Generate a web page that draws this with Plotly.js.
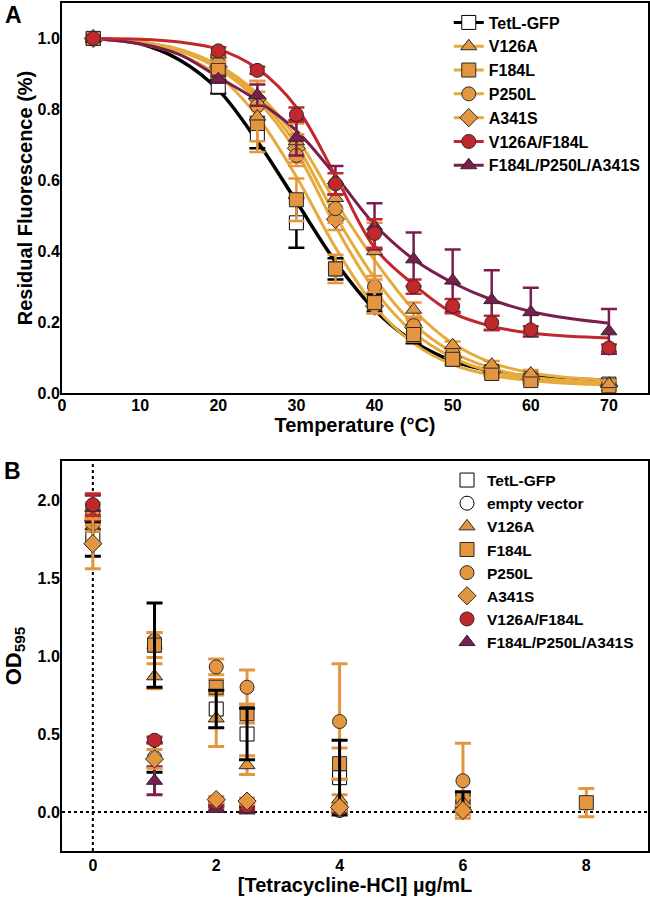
<!DOCTYPE html>
<html>
<head>
<meta charset="utf-8">
<script src="https://cdn.plot.ly/plotly-3.0.1.min.js"></script>
<style>
  html, body { margin: 0; padding: 0; background: #fff; }
  #chart { width: 650px; height: 900px; }
</style>
</head>
<body>
<div id="chart"></div>
<script>
// ---- panel A: residual fluorescence vs temperature ----
const tempX = [4, 20, 25, 30, 35, 40, 45, 50, 55, 60, 70];
const fitX = [4, 10, 15, 20, 25, 30, 35, 40, 45, 50, 55, 60, 65, 70];
const tempTicks = [0, 10, 20, 30, 40, 50, 60, 70];
const fluorTicks = [0, 0.2, 0.4, 0.6, 0.8, 1.0];

const tetlA    = [1.0, 0.865, 0.73, 0.48, 0.35, 0.255, 0.165, 0.095, 0.06, 0.04, 0.025];
const tetlAErr = [0, 0.02, 0.04, 0.07, 0.03, 0.025, 0.025, 0.015, 0.01, 0.01, 0.01];
const tetlFit  = [1.0, 0.985, 0.94, 0.855, 0.71, 0.54, 0.37, 0.235, 0.145, 0.09, 0.062, 0.047, 0.04, 0.036];

const v126aA    = [1.0, 0.955, 0.78, 0.71, 0.55, 0.40, 0.235, 0.135, 0.08, 0.055, 0.025];
const v126aAErr = [0, 0.02, 0.1, 0.05, 0.03, 0.08, 0.02, 0.01, 0.01, 0.01, 0.01];
const v126aFit  = [1.0, 0.99, 0.97, 0.925, 0.845, 0.72, 0.54, 0.375, 0.235, 0.14, 0.085, 0.057, 0.043, 0.036];

const f184lA    = [1.0, 0.91, 0.76, 0.545, 0.35, 0.255, 0.165, 0.095, 0.055, 0.035, 0.02];
const f184lAErr = [0, 0.02, 0.05, 0.06, 0.04, 0.03, 0.02, 0.015, 0.01, 0.01, 0.01];
const f184lFit  = [1.0, 0.985, 0.955, 0.895, 0.78, 0.61, 0.41, 0.245, 0.14, 0.08, 0.05, 0.035, 0.027, 0.023];

const p250lA    = [1.0, 0.93, 0.81, 0.67, 0.52, 0.30, 0.19, 0.11, 0.06, 0.045, 0.02];
const p250lAErr = [0, 0.02, 0.04, 0.03, 0.04, 0.03, 0.02, 0.01, 0.01, 0.01, 0.01];
const p250lFit  = [1.0, 0.99, 0.965, 0.92, 0.835, 0.70, 0.50, 0.325, 0.195, 0.115, 0.07, 0.045, 0.035, 0.028];

const a341sA    = [1.0, 0.92, 0.83, 0.69, 0.49, 0.245, 0.185, 0.10, 0.06, 0.04, 0.02];
const a341sAErr = [0, 0.02, 0.05, 0.04, 0.03, 0.02, 0.02, 0.01, 0.01, 0.01, 0.01];
const a341sFit  = [1.0, 0.99, 0.965, 0.915, 0.825, 0.68, 0.47, 0.29, 0.17, 0.10, 0.06, 0.04, 0.03, 0.025];

const dblA    = [1.0, 0.965, 0.91, 0.785, 0.59, 0.45, 0.30, 0.245, 0.198, 0.178, 0.127];
const dblAErr = [0, 0.01, 0.01, 0.02, 0.03, 0.04, 0.02, 0.02, 0.02, 0.01, 0.01];
const dblFit  = [1.0, 0.998, 0.99, 0.97, 0.915, 0.806, 0.613, 0.41, 0.306, 0.226, 0.188, 0.169, 0.16, 0.155];

const triA    = [1.0, 0.885, 0.84, 0.72, 0.60, 0.47, 0.377, 0.317, 0.262, 0.228, 0.174];
const triAErr = [0, 0.01, 0.03, 0.05, 0.04, 0.065, 0.076, 0.088, 0.084, 0.069, 0.063];
const triFit  = [1.0, 0.985, 0.955, 0.891, 0.825, 0.74, 0.613, 0.475, 0.377, 0.311, 0.263, 0.23, 0.21, 0.197];

// ---- panel B: OD595 vs tetracycline ----
const concTicks = [0, 2, 4, 6, 8];
const odTicks = [0, 0.5, 1.0, 1.5, 2.0];

const tetlBX = [0, 1, 2, 2.5, 4, 6];
const tetlB = [1.75, 1.07, 0.66, 0.50, 0.22, 0.08];
const tetlBErr = [0.11, 0.27, 0.12, 0.165, 0.24, 0.05];

const emptyBX = [0, 1, 2, 2.5, 4];
const emptyB = [1.84, 0.35, 0.05, 0.04, 0.01];
const emptyBErr = [0.03, 0.095, 0.01, 0.01, 0.01];

const v126aBX = [0, 1, 2, 2.5, 4, 6];
const v126aB = [1.89, 0.87, 0.60, 0.30, 0.08, 0.06];
const v126aBErr = [0.05, 0.08, 0.18, 0.06, 0.03, 0.03];

const f184lBX = [0, 1, 2, 2.5, 4, 6, 8];
const f184lB = [1.93, 1.07, 0.80, 0.63, 0.31, 0.08, 0.06];
const f184lBErr = [0.05, 0.08, 0.05, 0.06, 0.10, 0.04, 0.09];

const p250lBX = [0, 1, 2, 2.5, 4, 6];
const p250lB = [1.85, 1.10, 0.93, 0.80, 0.58, 0.20];
const p250lBErr = [0.05, 0.05, 0.05, 0.11, 0.37, 0.24];

const a341sBX = [0, 1, 2, 2.5, 4, 6];
const a341sB = [1.72, 0.34, 0.08, 0.07, 0.03, 0.01];
const a341sBErr = [0.16, 0.06, 0.02, 0.02, 0.02, 0.03];

const dblBX = [0, 1, 2, 2.5, 4];
const dblB = [1.97, 0.46, 0.06, 0.04, 0.02];
const dblBErr = [0.07, 0.02, 0.02, 0.02, 0.02];

const triBX = [0, 1, 2, 2.5];
const triB = [1.95, 0.20, 0.02, 0.01];
const triBErr = [0.08, 0.09, 0.01, 0.01];

// styles
const ORANGE = "#E3963F";
const GOLD = "#E7AA3C";
const RED = "#C1272D";
const PURPLE = "#7B1D4E";
const EDGE = "#2a2a2a";

const ST = {
  tetl:  { name: "TetL-GFP", symbol: "square", fill: "#fff", line: "#000", err: "#000", edge: "#000" },
  empty: { name: "empty vector", symbol: "circle", fill: "#fff", line: "#000", err: "#000", edge: "#000" },
  v126a: { name: "V126A", symbol: "triangle-up", fill: ORANGE, line: GOLD, err: ORANGE, edge: EDGE },
  f184l: { name: "F184L", symbol: "square", fill: ORANGE, line: GOLD, err: ORANGE, edge: EDGE },
  p250l: { name: "P250L", symbol: "circle", fill: ORANGE, line: GOLD, err: ORANGE, edge: EDGE },
  a341s: { name: "A341S", symbol: "diamond", fill: ORANGE, line: GOLD, err: ORANGE, edge: EDGE },
  dbl:   { name: "V126A/F184L", symbol: "circle", fill: RED, line: RED, err: RED, edge: EDGE },
  tri:   { name: "F184L/P250L/A341S", symbol: "triangle-up", fill: PURPLE, line: PURPLE, err: PURPLE, edge: EDGE },
};

function mk(st) {
  return { symbol: st.symbol, size: 14, color: st.fill, line: { color: st.edge, width: 1 } };
}

function fitTrace(y, st) {
  return {
    x: fitX, y, mode: "lines", xaxis: "x", yaxis: "y",
    line: { color: st.line, width: st.line === "#000" ? 3.5 : 3, shape: "spline", smoothing: 1 },
    showlegend: false, hoverinfo: "skip",
  };
}

function dotsA(y, err, st) {
  return {
    x: tempX, y, mode: "markers", xaxis: "x", yaxis: "y",
    marker: mk(st),
    error_y: { type: "data", array: err, color: st.err, thickness: 2.5, width: 8 },
    showlegend: false, name: st.name,
  };
}

function legA(st, rank) {
  return {
    x: [null], y: [null], mode: "lines+markers", xaxis: "x", yaxis: "y",
    name: st.name, legend: "legend", legendrank: rank,
    line: { color: st.line, width: 3 }, marker: mk(st),
  };
}

function dotsB(x, y, err, st, rank) {
  return {
    x, y, mode: "markers", xaxis: "x2", yaxis: "y2",
    name: st.name, legend: "legend2", legendrank: rank,
    marker: mk(st),
    error_y: err ? { type: "data", array: err, color: st.err, thickness: 3, width: 8 } : { visible: false },
  };
}

// TetL-GFP bars in B sit above the other markers, its squares below them
function barsOnlyB(x, y, err, st) {
  return {
    x, y, mode: "markers", xaxis: "x2", yaxis: "y2", showlegend: false,
    marker: { size: 14, opacity: 0 },
    error_y: { type: "data", array: err, color: st.err, thickness: 3, width: 8 },
  };
}

const traces = [
  fitTrace(tetlFit, ST.tetl),
  fitTrace(a341sFit, ST.a341s),
  fitTrace(p250lFit, ST.p250l),
  fitTrace(f184lFit, ST.f184l),
  fitTrace(v126aFit, ST.v126a),
  fitTrace(triFit, ST.tri),
  fitTrace(dblFit, ST.dbl),
  dotsA(tetlA, tetlAErr, ST.tetl),
  dotsA(a341sA, a341sAErr, ST.a341s),
  dotsA(p250lA, p250lAErr, ST.p250l),
  dotsA(f184lA, f184lAErr, ST.f184l),
  dotsA(v126aA, v126aAErr, ST.v126a),
  dotsA(triA, triAErr, ST.tri),
  dotsA(dblA, dblAErr, ST.dbl),
  legA(ST.tetl, 1), legA(ST.v126a, 2), legA(ST.f184l, 3), legA(ST.p250l, 4),
  legA(ST.a341s, 5), legA(ST.dbl, 6), legA(ST.tri, 7),
  dotsB(tetlBX, tetlB, null, ST.tetl, 1),
  dotsB(emptyBX, emptyB, emptyBErr, ST.empty, 2),
  dotsB(p250lBX, p250lB, p250lBErr, ST.p250l, 5),
  dotsB(f184lBX, f184lB, f184lBErr, ST.f184l, 4),
  dotsB(v126aBX, v126aB, v126aBErr, ST.v126a, 3),
  barsOnlyB(tetlBX, tetlB, tetlBErr, ST.tetl),
  dotsB(triBX, triB, triBErr, ST.tri, 8),
  dotsB(dblBX, dblB, dblBErr, ST.dbl, 7),
  dotsB(a341sBX, a341sB, a341sBErr, ST.a341s, 6),
];

const FONT = "Liberation Sans, Arial, Helvetica, sans-serif";
const axisBase = {
  showline: true, mirror: true, linewidth: 2, linecolor: "#000",
  ticks: "", showgrid: false, zeroline: false,
  tickfont: { size: 16, weight: "bold", color: "#000" },
};
const dotted = { color: "#000", width: 2, dash: "dot" };

const layout = {
  width: 650, height: 900,
  margin: { l: 62, r: 2, t: 3, b: 49 },
  paper_bgcolor: "#fff", plot_bgcolor: "#fff",
  font: { family: FONT, size: 16, color: "#000", weight: "bold" },
  showlegend: true,
  xaxis: Object.assign({}, axisBase, {
    domain: [0, 1], anchor: "y", range: [0, 75], tickvals: tempTicks, ticklabelstandoff: -3,
    title: { text: "Temperature (°C)", font: { size: 20, weight: "bold" }, standoff: 0 },
  }),
  yaxis: Object.assign({}, axisBase, {
    domain: [0.5401, 1], anchor: "x", range: [0, 1.1], tickvals: fluorTicks, tickformat: ".1f",
    ticklabelstandoff: -3,
    title: { text: "Residual Fluorescence (%)", font: { size: 20, weight: "bold" }, standoff: 0 },
  }),
  xaxis2: Object.assign({}, axisBase, {
    domain: [0, 1], anchor: "y2", range: [-0.5, 9], tickvals: concTicks, ticklabelstandoff: -1,
    title: { text: "[Tetracycline-HCl] µg/mL", font: { size: 20, weight: "bold" }, standoff: 0 },
  }),
  yaxis2: Object.assign({}, axisBase, {
    domain: [0, 0.4599], anchor: "x2", range: [-0.25, 2.25], tickvals: odTicks, tickformat: ".1f",
    ticklabelstandoff: -3,
    title: { text: "OD<sub>595</sub>", font: { size: 22, weight: "bold" }, standoff: 10 },
  }),
  legend: {
    x: 0.66, y: 0.997, xanchor: "left", yanchor: "top",
    bgcolor: "rgba(0,0,0,0)", borderwidth: 0, tracegroupgap: 0,
    font: { size: 16, weight: "bold", color: "#000" },
  },
  legend2: {
    x: 0.657, y: 0.457, xanchor: "left", yanchor: "top",
    bgcolor: "rgba(0,0,0,0)", borderwidth: 0, tracegroupgap: 0,
    font: { size: 15.5, weight: "bold", color: "#000" },
  },
  shapes: [
    { type: "line", layer: "below", xref: "x2 domain", yref: "y2", x0: 0, x1: 1, y0: 0, y1: 0, line: dotted },
    { type: "line", layer: "below", xref: "x2", yref: "y2 domain", x0: 0, x1: 0, y0: 0, y1: 1, line: dotted },
  ],
  annotations: [
    { text: "A", xref: "paper", yref: "paper", x: -0.082, y: 0.986, showarrow: false,
      xanchor: "center", yanchor: "middle", font: { size: 23, weight: "bold" } },
    { text: "B", xref: "paper", yref: "paper", x: -0.085, y: 0.448, showarrow: false,
      xanchor: "center", yanchor: "middle", font: { size: 23, weight: "bold" } },
  ],
};

Plotly.newPlot("chart", traces, layout, { displayModeBar: false, staticPlot: true });
</script>
</body>
</html>
